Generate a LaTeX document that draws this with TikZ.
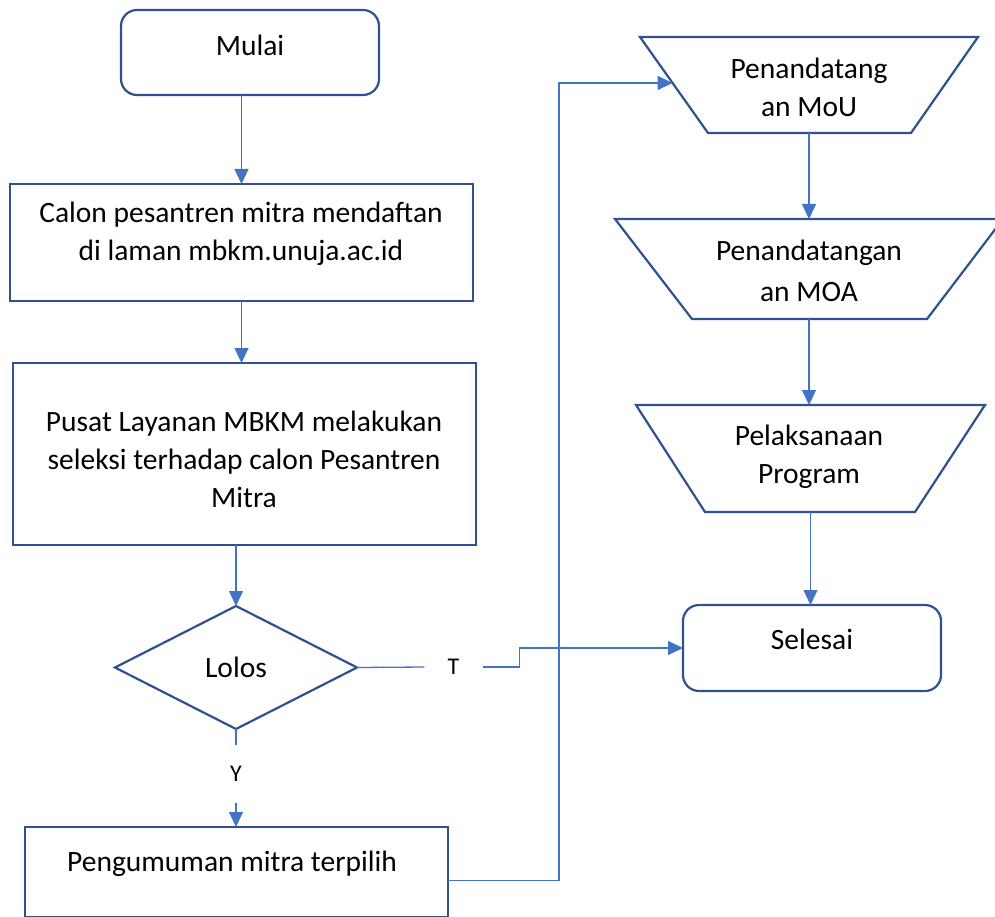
\documentclass[tikz,border=0pt]{standalone}
\usepackage{fontspec}
\setmainfont{Carlito}
\usetikzlibrary{arrows.meta,calc}
\definecolor{shapeblue}{HTML}{2F528F}
\definecolor{linkblue}{HTML}{4472C4}
\begin{document}
\begin{tikzpicture}[x=1pt,y=-1pt,
  outline/.style={draw=shapeblue, line width=2.2pt, line join=miter},
  rbox/.style={outline, rounded corners=16pt, inner sep=0pt, outer sep=0pt},
  sbox/.style={outline, inner sep=0pt, outer sep=0pt},
  ghost/.style={inner sep=0pt, outer sep=0pt},
  txt/.style={font=\fontsize{29.5}{38}\selectfont, align=center, inner sep=0pt, text=black},
  lab/.style={font=\fontsize{24}{28}\selectfont, text=black, inner xsep=23pt, inner ysep=21pt},
  link/.style={draw=linkblue, line width=1.3pt},
  arr/.style={link, -{Triangle[length=15pt,width=14pt]}}
]
\useasboundingbox (0,0) rectangle (995,917);
\clip (0,0) rectangle (995,917);

% left column
\node[rbox, minimum width=258pt, minimum height=85pt] (mulai) at (250,52.5) {};
\node[txt] (tmulai) at (250,45) {Mulai};

\node[sbox, minimum width=463pt, minimum height=117pt] (daftar) at (241.5,242.5) {};
\node[txt] (tdaftar) at (241,234) {Calon pesantren mitra mendaftan\\di laman mbkm.unuja.ac.id};

\node[sbox, minimum width=463pt, minimum height=182pt] (seleksi) at (244.5,454) {};
\node[txt] (tseleksi) at (244,459) {Pusat Layanan MBKM melakukan\\seleksi terhadap calon Pesantren\\Mitra};

\node[ghost, minimum width=242pt, minimum height=123pt] (lolos) at (236,667.5) {};
\draw[outline] (lolos.north) -- (lolos.east) -- (lolos.south) -- (lolos.west) -- cycle;
\node[txt] (tlolos) at (236,667) {Lolos};

\node[sbox, minimum width=423pt, minimum height=90pt] (umum) at (236.5,872) {};
\node[txt] (tumum) at (232,864) {Pengumuman mitra terpilih};

% right column
\node[ghost, minimum width=338pt, minimum height=96pt] (mou) at (809,85) {};
\coordinate (moubl) at ($(mou.south)+(-101,0)$);
\coordinate (moubr) at ($(mou.south)+(102,0)$);
\draw[outline] (mou.north west) -- (mou.north east) -- (moubr) -- (moubl) -- cycle;
\coordinate (mouin) at ($(mou.north west)!0.479!(moubl)$);
\node[txt] (tmou) at (809,87) {Penandatang\\an MoU};

\node[ghost, minimum width=388pt, minimum height=100pt] (moa) at (809,269) {};
\coordinate (moabl) at ($(moa.south)+(-117,0)$);
\coordinate (moabr) at ($(moa.south)+(118,0)$);
\draw[outline] (moa.north west) -- (moa.north east) -- (moabr) -- (moabl) -- cycle;
\node[txt, font=\fontsize{29.5}{41}\selectfont] (tmoa) at (809,270.5) {Penandatangan\\an MOA};

\node[ghost, minimum width=349pt, minimum height=107pt] (prog) at (810.5,458.5) {};
\coordinate (progbl) at ($(prog.south)+(-105.5,0)$);
\coordinate (progbr) at ($(prog.south)+(104.5,0)$);
\draw[outline] (prog.north west) -- (prog.north east) -- (progbr) -- (progbl) -- cycle;
\node[txt] (tprog) at (809,457) {Pelaksanaan\\Program};

\node[rbox, minimum width=258pt, minimum height=86pt] (selesai) at (812,648) {};
\node[txt] (tselesai) at (812,639) {Selesai};

% labels
\node[lab] (tlab) at (453.5,667) {T};
\node[lab] (ylab) at (236,774) {Y};

% connectors
\draw[arr] (daftar.north |- mulai.south) -- (daftar.north);
\draw[arr] (daftar.south) -- (daftar.south |- seleksi.north);
\draw[arr] (lolos.north |- seleksi.south) -- (lolos.north);
\draw[link] (lolos.south) -- (ylab.north);
\draw[arr] (ylab.south) -- (ylab.south |- umum.north);
\draw[link] (lolos.east) -- (tlab.west);
\draw[arr] (tlab.east) -- ++(37,0) |- (selesai.west);
\draw[arr] ($(umum.east)+(0,8.5)$) -- ++(111,0) |- (mouin);
\draw[arr] (mou.south) -- (moa.north);
\draw[arr] (moa.south) -- (moa.south |- prog.north);
\draw[arr] (prog.south) -- (prog.south |- selesai.north);
\end{tikzpicture}
\end{document}
